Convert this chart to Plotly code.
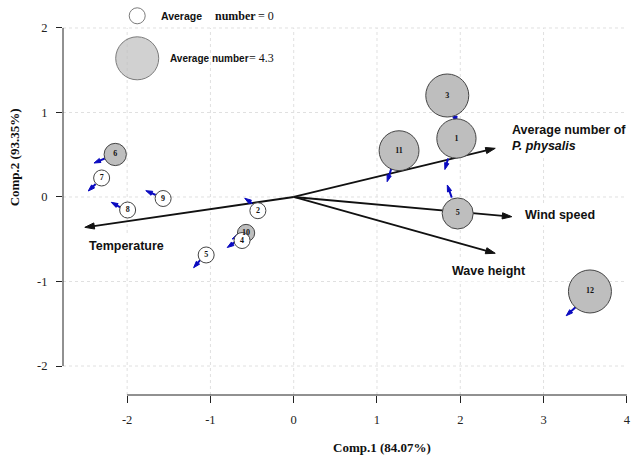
import plotly.graph_objects as go

# ---------------- data ----------------
# sites (bubbles): PCA scores and average number of P. physalis
labels = ["1", "2", "3", "6", "7", "8", "9", "10", "4", "5", "11", "5", "12"]
comp1 = [1.954, -0.430, 1.844, -2.143, -2.306, -1.994, -1.568, -0.572, -0.620, -1.051, 1.265, 1.969, 3.557]
comp2 = [0.692, -0.162, 1.201, 0.503, 0.225, -0.154, -0.018, -0.426, -0.515, -0.686, 0.548, -0.195, -1.118]
avg_number = [3.7, 0.0, 4.3, 1.0, 0.0, 0.0, 0.0, 0.2, 0.0, 0.0, 3.8, 2.4, 4.3]

# small blue shift arrows (start -> end) for each site
shift_x0 = [1.854, -0.498, 1.935, -2.262, -2.378, -2.081, -1.657, -0.668, -0.703, -1.122, 1.173, 1.898, 3.391]
shift_y0 = [0.456, -0.075, 0.959, 0.458, 0.154, -0.122, 0.024, -0.462, -0.533, -0.746, 0.340, -0.008, -1.298]
shift_x1 = [1.815, -0.588, 1.953, -2.398, -2.467, -2.191, -1.776, -0.739, -0.798, -1.202, 1.122, 1.844, 3.272]
shift_y1 = [0.325, -0.015, 0.876, 0.402, 0.071, -0.063, 0.075, -0.497, -0.598, -0.837, 0.181, 0.142, -1.405]

# variable loadings (arrows from origin)
var_names = ["Average number of<br><i>P. physalis</i>", "Wind speed", "Wave height", "Temperature"]
var_x = [2.42, 2.619, 2.42, -2.508]
var_y = [0.576, -0.233, -0.666, -0.359]

# legend values
legend_values = [0.0, 4.3]

x_ticks = [-2, -1, 0, 1, 2, 3, 4]
y_ticks = [-2, -1, 0, 1, 2]

GRAY = "#BEBEBE"
BLUE = "#0A0AC0"
SANS = "Liberation Sans, Arial, sans-serif"
SERIF = "Liberation Serif, Times New Roman, serif"


def bubble_size(v):
    # diameter in px: 16 px for 0, 43 px for 4.3
    return 16 + v * (27 / 4.3)


fig = go.Figure()

# grid (dotted) as shapes
for xv in x_ticks[:-1]:
    fig.add_shape(type="line", xref="x", yref="y", x0=xv, x1=xv, y0=-2.343, y1=2,
                  line=dict(color="#E0E0E0", width=1, dash="dot"), layer="below")
for yv in y_ticks:
    fig.add_shape(type="line", xref="paper", yref="y", x0=0, x1=1, y0=yv, y1=yv,
                  line=dict(color="#E0E0E0", width=1, dash="dot"), layer="below")

# axis lines (R style: only between first and last tick)
fig.add_shape(type="line", xref="x", yref="paper", x0=x_ticks[0], x1=x_ticks[-1], y0=0, y1=0,
              line=dict(color="#222", width=1))
fig.add_shape(type="line", xref="paper", yref="y", x0=0, x1=0, y0=y_ticks[0], y1=y_ticks[-1],
              line=dict(color="#222", width=1))

# main loading arrows
for vx, vy in zip(var_x, var_y):
    fig.add_trace(go.Scatter(
        x=[0, vx], y=[0, vy], mode="lines+markers",
        line=dict(color="#111", width=1.8),
        marker=dict(symbol="arrow", angleref="previous", size=[0, 10], color="#111",
                    line=dict(width=1, color="#111"), opacity=1),
        hoverinfo="skip", showlegend=False))

# blue shift arrows
for a, b, c, d in zip(shift_x0, shift_y0, shift_x1, shift_y1):
    fig.add_trace(go.Scatter(
        x=[a, c], y=[b, d], mode="lines+markers",
        line=dict(color=BLUE, width=2),
        marker=dict(symbol="arrow", angleref="previous", size=[0, 7], color=BLUE,
                    line=dict(width=1, color=BLUE), opacity=1),
        hoverinfo="skip", showlegend=False))

# bubbles
fig.add_trace(go.Scatter(
    x=comp1, y=comp2, mode="markers+text", text=labels,
    textposition="middle center",
    textfont=dict(family=SERIF, size=8, color="#111", weight="bold"),
    marker=dict(size=[bubble_size(v) for v in avg_number],
                color=[GRAY if v > 0 else "white" for v in avg_number],
                line=dict(color="#444", width=1), opacity=1),
    hoverinfo="skip", showlegend=False, cliponaxis=False))

# legend bubbles
fig.add_trace(go.Scatter(
    x=[-1.879, -1.879], y=[2.144, 1.641], mode="markers",
    marker=dict(size=[bubble_size(v) for v in legend_values],
                color=[GRAY if v > 0 else "white" for v in legend_values],
                line=dict(color="#444", width=1)),
    hoverinfo="skip", showlegend=False, cliponaxis=False))

ann = []
# variable labels
label_pos = [(2.577, 0.70), (2.726, -0.213), (1.847, -0.872), (-2.51, -0.576)]
for name, (lx, ly) in zip(var_names, label_pos):
    ann.append(dict(x=lx, y=ly, xref="x", yref="y", text="<b>" + name + "</b>",
                    showarrow=False, xanchor="left", yanchor="middle", align="left",
                    bgcolor="white", borderpad=3,
                    font=dict(family=SANS, size=12.5, color="#111")))

# legend texts
ann += [
    dict(x=-1.618, y=2.142, text="<b>Average</b>", font=dict(family=SANS, size=10.5, color="#111")),
    dict(x=-0.964, y=2.142, text="<b>number</b>", font=dict(family=SERIF, size=12, color="#111")),
    dict(x=-0.45, y=2.142, text="= " + f"{legend_values[0]:g}", font=dict(family=SERIF, size=12, color="#111")),
    dict(x=-1.507, y=1.639, text="<b>Average number</b>", font=dict(family=SANS, size=10, color="#111")),
    dict(x=-0.56, y=1.639, text="= " + f"{legend_values[1]:g}", font=dict(family=SERIF, size=12, color="#111")),
]
for a in ann[-5:]:
    a.update(xref="x", yref="y", showarrow=False, xanchor="left", yanchor="middle")

# axis titles
ann.append(dict(x=1.055, y=-0.134, xref="x", yref="paper", text="<b>Comp.1 (84.07%)</b>",
                showarrow=False, xanchor="center", yanchor="middle",
                font=dict(family=SERIF, size=13, color="#111")))
ann.append(dict(x=-0.0863, y=0.473, xref="paper", yref="y", text="<b>Comp.2 (93.35%)</b>",
                showarrow=False, textangle=-90, xanchor="center", yanchor="middle",
                font=dict(family=SERIF, size=13, color="#111")))

fig.update_layout(
    width=631, height=457,
    margin=dict(l=63, r=0, t=0, b=62),
    paper_bgcolor="white", plot_bgcolor="white",
    annotations=ann,
    xaxis=dict(range=[-2.77, 4.002], tickvals=x_ticks, ticktext=[str(t) for t in x_ticks],
               showgrid=False, zeroline=False, showline=False,
               ticks="outside", ticklen=7, tickcolor="#222", tickwidth=1,
               tickfont=dict(family=SERIF, size=12.5, color="#222"),
               ticklabeloverflow="allow", ticklabelstandoff=6),
    yaxis=dict(range=[-2.343, 2.331], tickvals=y_ticks, ticktext=[str(t) for t in y_ticks],
               showgrid=False, zeroline=False, showline=False,
               ticks="outside", ticklen=6, tickcolor="#222", tickwidth=1,
               tickfont=dict(family=SERIF, size=12.5, color="#222"),
               ticklabelstandoff=6),
)

fig.write_html("out.html")
